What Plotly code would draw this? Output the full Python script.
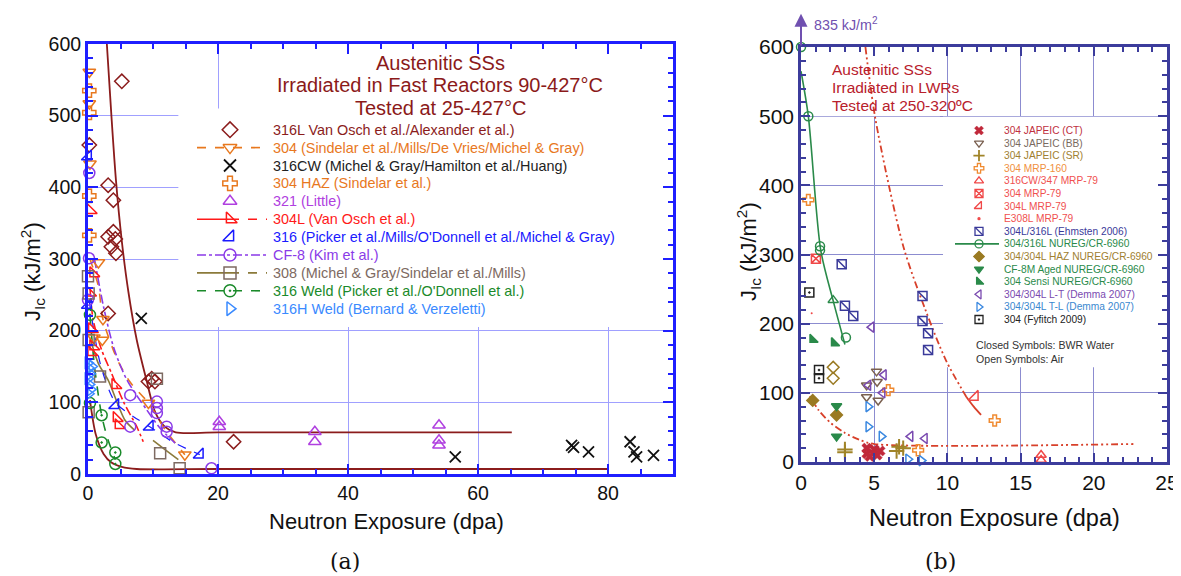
import plotly.graph_objects as go

W, H = 1181, 576
OFF = 8  # page body margin: figure's top-left sits at screen pixel (8, 8)

# ---------------- Panel (a): fast reactor data ----------------
a316L_x = [5.2, 0.2, 3.1, 3.9, 3.9, 3.1, 4.2, 3.6, 4.3, 3.1, 9.3, 9.8, 10.3, 22.4]
a316L_y = [548, 459, 403, 382, 338, 331, 328, 317, 308, 224, 129, 133, 129, 45]
a304_x = [0.2, 0.2, 0.3, 1.6, 2.3, 0.9, 2.2, 9.3, 14.9]
a304_y = [561, 517, 433, 295, 216, 190, 187, 99, 27]
a316CW_x = [8.2, 56.5, 74.4, 74.7, 77.0, 83.4, 84.0, 84.4, 87.0]
a316CW_y = [217, 24, 40, 37, 31, 45, 31, 24, 26]
a304HAZ_x = [0.2, 0.2, 0.2, 0.2]
a304HAZ_y = [535, 504, 388, 333]
a321_x = [20.2, 20.2, 34.9, 34.9, 54.0, 54.0, 54.0]
a321_y = [73, 66, 59, 45, 68, 47, 40]
a304L_x = [0.4, 0.8, 0.3, 0.6, 0.8, 0.5, 4.2, 4.4, 4.7]
a304L_y = [368, 280, 253, 202, 178, 170, 124, 78, 68]
a316_x = [0.0, 0.0, 4.2, 9.5, 17.2]
a316_y = [443, 236, 96, 66, 27]
aCF8_x = [0.2, 0.15, 0.0, 6.5, 6.5, 10.6, 10.6, 10.6, 12.1, 12.1, 19.0]
aCF8_y = [420, 301, 243, 110, 66, 101, 92, 85, 66, 59, 8]
a308_x = [0.0, 0.1, 0.1, 1.85, 0.1, 10.6, 11.1, 14.1]
a308_y = [276, 252, 187, 136, 86, 133, 29, 8]
a316W_x = [0.3, 0.3, 2.1, 2.1, 4.2, 4.2]
a316W_y = [222, 99, 82, 44, 30, 14]
a316HW_x = [0.0, 0.1, 0.3, 0.0, 0.2, 0.4, 0.1, 0.6]
a316HW_y = [155, 148, 140, 133, 125, 118, 112, 150]

# trend curves
aFitHi_x = [2.9, 3.6, 4.3, 5.2, 6.2, 7.5, 9.0, 10.3, 11.8, 13.5, 20, 65.2]
aFitHi_y = [600, 500, 410, 325, 255, 187, 131, 87, 66, 58, 58, 58]
aFitLo_x = [0.3, 1.2, 2.4, 3.6, 5.2, 7.5, 20, 80]
aFitLo_y = [103, 55, 28, 16, 10, 7, 7, 7]
a304Line_x = [0.3, 1.6, 2.3, 4.5, 6.5, 9.3, 12.0, 14.9]
a304Line_y = [300, 262, 216, 160, 128, 99, 60, 27]
a304LLine_x = [0.3, 0.8, 2.1, 3.6, 5.5, 7.5, 8.5]
a304LLine_y = [260, 215, 173, 141, 100, 66, 45]
aCF8Line_x = [1.0, 2.4, 4.0, 6.0, 9.0, 11.0, 13.4]
aCF8Line_y = [300, 233, 175, 131, 90, 65, 43]
a308Line_x = [0.3, 1.6, 3.1, 5.7, 7.2, None, 10.0, 12.0, 13.9]
a308Line_y = [190, 154, 131, 75, 61, None, 47, 33, 20]
a316Line_x = [0.2, 2.0, 4.2, 7.0, 9.5, 13.0, 17.2]
a316Line_y = [240, 150, 100, 80, 66, 45, 27]
a316WLine_x = [0.3, 1.0, 2.1, 3.0, 4.2]
a316WLine_y = [222, 150, 82, 50, 20]

# ---------------- Panel (b): LWR data ----------------
bCT_x = [4.5, 4.5, 4.7, 5.0, 5.2, 5.4]
bCT_y = [20, 12, 8, 18, 10, 16]
bBB_x = [4.48, 4.48, 5.16, 5.2, 5.27]
bBB_y = [111, 94, 131, 116, 89]
bSR_x = [3.0, 3.0, 6.53, 6.98, 6.7]
bSR_y = [14, 18, 16, 20, 22]
bMRP160_x = [0.5, 5.96, 8.0, 13.23]
bMRP160_y = [379, 104, 17, 60]
b316CW_x = [16.4, 16.4]
b316CW_y = [10, 3]
b304MRP_x = [1.02]
b304MRP_y = [294]
b304LMRP_x = [11.87]
b304LMRP_y = [94]
bE308L_x = [0.73]
bE308L_y = [215]
bEhm_x = [2.78, 3.0, 3.57, 8.3, 8.3, 8.68, 8.68]
bEhm_y = [286, 226, 211, 240, 204, 186, 162]
bNUREG_x = [0.0, 0.5, 1.3, 1.3, 3.07]
bNUREG_y = [600, 500, 312, 306, 180]
bNUREGTri_x = [2.2]
bNUREGTri_y = [234]
bHAZ_x = [0.8, 2.43]
bHAZ_y = [89, 68]
bHAZopen_x = [2.2, 2.2]
bHAZopen_y = [137, 121]
bCF8M_x = [2.43, 2.43]
bCF8M_y = [81, 37]
bSensi_x = [0.8, 2.27]
bSensi_y = [177, 172]
bLT_x = [4.82, 4.6, 5.66, 5.57, 7.48, 8.46]
bLT_y = [195, 111, 126, 100, 37, 34]
bTL_x = [4.6, 4.6, 5.5, 7.32, 8.23]
bTL_y = [80, 51, 37, 4, 2]
bFyf_x = [0.57, 1.23, 1.23]
bFyf_y = [245, 133, 121]

bNUREGLine_x = [0.0, 0.5, 1.35, 2.2, 3.0]
bNUREGLine_y = [565, 500, 306, 233, 170]
bFitHi_x = [4.4, 5.1, 7.0, 8.5, 9.9, 11.3]
bFitHi_y = [600, 494, 311, 220, 147, 94]
bFitHiEnd_x = [11.3, 11.8, 12.3]
bFitHiEnd_y = [94, 80, 68]
bFitLo_x = [0.6, 1.2, 2.0, 3.0, 4.0, 5.0, 22.7]
bFitLo_y = [95, 75, 57, 42, 32, 26, 26]

FONT = "Liberation Sans, Arial, sans-serif"


def fx(p):
    return (p - OFF) / W


def fy(p):
    return 1 - (p - OFF) / H


fig = go.Figure()


def line(x, y, color, dash="solid", width=1.6, xa="x", ya="y", shape="spline"):
    fig.add_trace(go.Scatter(x=x, y=y, mode="lines", xaxis=xa, yaxis=ya,
                             line=dict(color=color, dash=dash, width=width, shape=shape,
                                       smoothing=0.8 if shape == "spline" else None),
                             connectgaps=False, showlegend=False, hoverinfo="skip"))


def pts(x, y, symbol, color, size=11, lw=1.5, xa="x", ya="y"):
    fig.add_trace(go.Scatter(x=x, y=y, mode="markers", xaxis=xa, yaxis=ya, cliponaxis=False,
                             marker=dict(symbol=symbol, size=size, color=color,
                                         line=dict(color=color, width=lw)),
                             showlegend=False))


# colours
C316L = "#8b1c1c"; C304 = "#e8781e"; CBLK = "#111111"; C321 = "#b040e0"
C304L = "#ff1a1a"; C316 = "#1a1aff"; CCF8 = "#8a3ae8"; C308 = "#7d6a62"; C308L = "#8b7a3a"
C316W = "#1a8a2a"; C316HW = "#3a8aff"

# panel (a) curves
line(aFitHi_x, aFitHi_y, C316L, width=1.8)
line(aFitLo_x, aFitLo_y, C316L, width=1.8)
line(a304Line_x, a304Line_y, C304, dash="dash")
line(a304LLine_x, a304LLine_y, C304L, dash="dashdot")
line(aCF8Line_x, aCF8Line_y, CCF8, dash="dashdot")
line(a308Line_x, a308Line_y, C308L)
line(a316Line_x, a316Line_y, C316, dash="dash", width=1.2)
line(a316WLine_x, a316WLine_y, C316W, dash="dash")

# panel (a) markers
pts(a316L_x, a316L_y, "diamond-open", C316L)
pts(a304_x, a304_y, "triangle-down-open", C304)
pts(a316CW_x, a316CW_y, "x-thin-open", CBLK, lw=1.8)
pts(a304HAZ_x, a304HAZ_y, "cross-open", C304)
pts(a321_x, a321_y, "triangle-up-open", C321)
pts(a304L_x, a304L_y, "triangle-sw-open", C304L)
pts(a316_x, a316_y, "triangle-se-open", C316)
pts(aCF8_x, aCF8_y, "circle-open", CCF8)
pts(a308_x, a308_y, "square-open", C308)
pts(a316W_x, a316W_y, "circle-open-dot", C316W)
pts(a316HW_x, a316HW_y, "triangle-right-open", C316HW)

# panel (b)
CRED = "#d8402a"; CCT = "#c0283a"; CBB = "#7a6050"; CSR = "#a08428"; CMRP160 = "#f08a30"
CMRP = "#f04848"; CEHM = "#3a3a9a"; CGRN = "#2a8a4a"; CHAZ = "#9a7a22"; CLT = "#7a4ab0"
CTL = "#3a88e0"
DDD = "7px,3px,2px,3px,2px,3px"
line(bFitHi_x, bFitHi_y, CRED, dash=DDD, width=1.8, xa="x2", ya="y2")
line(bFitHiEnd_x, bFitHiEnd_y, CRED, width=1.8, xa="x2", ya="y2")
line(bFitLo_x, bFitLo_y, CRED, dash=DDD, width=1.8, xa="x2", ya="y2")
line(bNUREGLine_x, bNUREGLine_y, CGRN, width=1.6, xa="x2", ya="y2")

S = 9
pts(bCT_x, bCT_y, "x", CCT, size=S, lw=0.5, xa="x2", ya="y2")
pts(bBB_x, bBB_y, "triangle-down-open", CBB, size=S, xa="x2", ya="y2")
pts(bSR_x, bSR_y, "cross-thin-open", CSR, size=S + 2, lw=2, xa="x2", ya="y2")
pts(bMRP160_x, bMRP160_y, "cross-open", CMRP160, size=S, xa="x2", ya="y2")
pts(b316CW_x, b316CW_y, "triangle-up-open", CMRP, size=S, xa="x2", ya="y2")
pts(b304MRP_x, b304MRP_y, "square-x-open", CMRP, size=S, xa="x2", ya="y2")
pts(b304LMRP_x, b304LMRP_y, "triangle-se-open", CMRP, size=S + 2, xa="x2", ya="y2")
pts(bE308L_x, bE308L_y, "circle", CMRP, size=2, lw=0, xa="x2", ya="y2")
pts(bEhm_x, bEhm_y, "square-open", CEHM, size=S, xa="x2", ya="y2")
pts(bEhm_x, bEhm_y, "line-nw-open", CEHM, size=S, xa="x2", ya="y2")
pts(bNUREG_x, bNUREG_y, "circle-open", CGRN, size=S, xa="x2", ya="y2")
pts(bNUREGTri_x, bNUREGTri_y, "triangle-up-open", CGRN, size=S, xa="x2", ya="y2")
pts(bHAZ_x, bHAZ_y, "diamond", CHAZ, size=S, xa="x2", ya="y2")
pts(bHAZopen_x, bHAZopen_y, "diamond-open", CHAZ, size=S, xa="x2", ya="y2")
pts(bCF8M_x, bCF8M_y, "triangle-down", CGRN, size=S, xa="x2", ya="y2")
pts(bSensi_x, bSensi_y, "triangle-sw", CGRN, size=S, xa="x2", ya="y2")
pts(bLT_x, bLT_y, "triangle-left-open", CLT, size=S, xa="x2", ya="y2")
pts(bTL_x, bTL_y, "triangle-right-open", CTL, size=S, xa="x2", ya="y2")
pts(bFyf_x, bFyf_y, "square-open-dot", "#222222", size=S, xa="x2", ya="y2")

# ---------------- manual legends (overlay axis in screen-pixel units) ----------------
annotations = []


def ann(px, py, text, color, size, xanchor="left", family=FONT, angle=0, align="left"):
    annotations.append(dict(x=fx(px), y=fy(py), xref="paper", yref="paper", text=text,
                            showarrow=False, xanchor=xanchor, yanchor="middle", align=align,
                            textangle=angle, borderpad=0,
                            font=dict(family=family, size=size, color=color)))


legA = [
    ("316L Van Osch et al./Alexander et al.)", C316L, "diamond-open", None, None),
    ("304 (Sindelar et al./Mills/De Vries/Michel & Gray)", C304, "triangle-down-open", C304, "dash"),
    ("316CW (Michel & Gray/Hamilton et al./Huang)", CBLK, "x-thin-open", None, None),
    ("304 HAZ (Sindelar et al.)", C304, "cross-open", None, None),
    ("321 (Little)", C321, "triangle-up-open", None, None),
    ("304L (Van Osch et al.)", C304L, "triangle-sw-open", C304L, "split"),
    ("316 (Picker et al./Mills/O'Donnell et al./Michel & Gray)", C316, "triangle-se-open", None, None),
    ("CF-8 (Kim et al.)", CCF8, "circle-open", CCF8, "dashdot"),
    ("308 (Michel & Gray/Sindelar et al./Mills)", C308, "square-open", C308L, "split"),
    ("316 Weld (Picker et al./O'Donnell et al.)", C316W, "circle-open-dot", C316W, "dash"),
    ("316H Weld (Bernard & Verzeletti)", C316HW, "triangle-right-open", None, None),
]
for i, (lab, col, sym, lcol, ldash) in enumerate(legA):
    yy = 129.7 + i * 17.9
    if lcol:
        if ldash == "split":
            fig.add_trace(go.Scatter(x=[197, 230], y=[yy, yy], xaxis="x3", yaxis="y3", mode="lines",
                                     line=dict(color=lcol, width=1.6), showlegend=False, cliponaxis=False))
            fig.add_trace(go.Scatter(x=[230, 267], y=[yy, yy], xaxis="x3", yaxis="y3", mode="lines",
                                     line=dict(color=lcol, width=1.6, dash="dash"), showlegend=False,
                                     cliponaxis=False))
        else:
            fig.add_trace(go.Scatter(x=[197, 267], y=[yy, yy], xaxis="x3", yaxis="y3", mode="lines",
                                     line=dict(color=lcol, width=1.6, dash=ldash), showlegend=False,
                                     cliponaxis=False))
    lw = 1.8 if sym == "x-thin-open" else 1.5
    fig.add_trace(go.Scatter(x=[230], y=[yy], xaxis="x3", yaxis="y3", mode="markers", cliponaxis=False,
                             marker=dict(symbol=sym, size=12, color=col, line=dict(color=col, width=lw)),
                             showlegend=False))
    ann(272, yy, lab, col if col != CBLK else "#222222", 14.4)

legB = [
    ("304 JAPEIC (CT)", CCT, "x", "#c03040"),
    ("304 JAPEIC (BB)", CBB, "triangle-down-open", "#7a6a60"),
    ("304 JAPEIC (SR)", CSR, "cross-thin-open", "#a08030"),
    ("304 MRP-160", CMRP160, "cross-open", "#f09040"),
    ("316CW/347 MRP-79", CMRP, "triangle-up-open", "#f05050"),
    ("304 MRP-79", CMRP, "square-x-open", "#f05050"),
    ("304L MRP-79", CMRP, "triangle-se-open", "#f05050"),
    ("E308L MRP-79", CMRP, "dot", "#f05050"),
    ("304L/316L (Ehmsten 2006)", CEHM, "ehm", "#3a3a9a"),
    ("304/316L NUREG/CR-6960", CGRN, "circle-open", "#2a8a4a"),
    ("304/304L HAZ NUREG/CR-6960", CHAZ, "diamond", "#a08030"),
    ("CF-8M Aged NUREG/CR-6960", CGRN, "triangle-down", "#2a8a4a"),
    ("304 Sensi NUREG/CR-6960", CGRN, "triangle-sw", "#2a8a4a"),
    ("304/304L L-T (Demma 2007)", CLT, "triangle-left-open", "#7a4ab0"),
    ("304/304L T-L (Demma 2007)", CTL, "triangle-right-open", "#3a88d0"),
    ("304 (Fyfitch 2009)", "#222222", "square-open-dot", "#222222"),
]
for i, (lab, col, sym, tcol) in enumerate(legB):
    yy = 130.5 + i * 12.6
    if i == 9:
        fig.add_trace(go.Scatter(x=[955, 999], y=[yy, yy], xaxis="x3", yaxis="y3", mode="lines",
                                 line=dict(color=CGRN, width=1.6), showlegend=False, cliponaxis=False))
    syms = [sym]
    size = 8
    if sym == "ehm":
        syms = ["square-open", "line-nw-open"]
    if sym == "dot":
        syms = ["circle"]
        size = 2
    for s in syms:
        lw = 0.5 if s == "x" else (1.8 if s == "cross-thin-open" else 1.3)
        fig.add_trace(go.Scatter(x=[979], y=[yy], xaxis="x3", yaxis="y3", mode="markers", cliponaxis=False,
                                 marker=dict(symbol=s, size=size, color=col, line=dict(color=col, width=lw)),
                                 showlegend=False))
    ann(1003, yy, lab, tcol, 10.2)

ann(975, 345, "Closed Symbols: BWR Water", "#333333", 10.6)
ann(975, 359, "Open Symbols: Air", "#333333", 10.6)

# titles inside plots (one annotation per line)
for k, t in enumerate(["Austenitic SSs", "Irradiated in Fast Reactors 90-427°C", "Tested at 25-427°C"]):
    ann(440, 63 + k * 22.3, t, "#8b1a1a", 20, xanchor="center")
for k, t in enumerate(["Austenitic SSs", "Irradiated in LWRs", "Tested at 250-320ºC"]):
    ann(831, 69.5 + k * 17.8, t, "#b8202c", 15.5)

# axis titles
ann(386, 521, "Neutron Exposure (dpa)", "#111111", 22, xanchor="center")
ann(994, 518, "Neutron Exposure (dpa)", "#111111", 23.5, xanchor="center")
ann(33, 272, "J<sub>Ic</sub> (kJ/m<sup>2</sup>)", "#111111", 22, xanchor="center", angle=-90)
ann(748, 252, "J<sub>Ic</sub> (kJ/m<sup>2</sup>)", "#111111", 22, xanchor="center", angle=-90)
ann(345, 561, "(a)", "#111111", 22, xanchor="center", family="DejaVu Serif, Liberation Serif, serif")
ann(940, 561, "(b)", "#111111", 22, xanchor="center", family="DejaVu Serif, Liberation Serif, serif")

# 835 kJ/m2 arrow
annotations.append(dict(x=0, y=648, xref="x2", yref="y2", ax=0, ay=600, axref="x2", ayref="y2",
                        text="", showarrow=True, arrowhead=2, arrowsize=1.3, arrowwidth=2,
                        arrowcolor="#7050b0"))
ann(813, 24, "835 kJ/m<sup>2</sup>", "#7050b0", 14.3)

# white boxes hiding grid behind titles/legends
shapes = [
    dict(type="rect", xref="x", yref="y", x0=20.4, x1=89.5, y0=497, y1=599, layer="between",
         fillcolor="white", line=dict(width=0)),
    dict(type="rect", xref="x", yref="y", x0=13.9, x1=89.5, y0=205, y1=510, layer="between",
         fillcolor="white", line=dict(width=0)),
    dict(type="rect", xref="x2", yref="y2", x0=0.1, x1=9.5, y0=500, y1=599, layer="between",
         fillcolor="white", line=dict(width=0)),
    dict(type="rect", xref="x2", yref="y2", x0=9.7, x1=24.8, y0=137, y1=499, layer="between",
         fillcolor="white", line=dict(width=0)),
]

BLUE = "#1f1fff"
NAVY = "#3c3c9c"
common_a = dict(showline=True, linecolor=BLUE, linewidth=3, mirror="ticks", ticks="inside",
                tickcolor=BLUE, tickwidth=2, ticklen=10, showgrid=True, gridcolor="#a0a0ff",
                gridwidth=1, zeroline=False, automargin=False,
                tickfont=dict(family=FONT, size=19.5, color="#111111"))
common_b = dict(showline=True, linecolor=NAVY, linewidth=2.5, mirror="ticks", ticks="inside",
                tickcolor=NAVY, tickwidth=2, ticklen=9, showgrid=True, gridcolor="#8c8cd0",
                gridwidth=1, zeroline=False, automargin=False,
                tickfont=dict(family=FONT, size=21, color="#111111"))

fig.update_layout(
    width=W, height=H, margin=dict(l=0, r=0, t=0, b=0, pad=0, autoexpand=False),
    paper_bgcolor="white", plot_bgcolor="rgba(0,0,0,0)", showlegend=False,
    xaxis=dict(domain=[fx(88), fx(673)], range=[0, 90], dtick=20, tick0=0, anchor="y",
               minor=dict(dtick=5, ticks="inside", ticklen=5, tickwidth=1.5, tickcolor=BLUE, showgrid=False),
               **common_a),
    yaxis=dict(domain=[fy(474), fy(44)], range=[0, 600], dtick=100, anchor="x",
               minor=dict(dtick=20, ticks="inside", ticklen=5, tickwidth=1.5, tickcolor=BLUE, showgrid=False),
               **common_a),
    xaxis2=dict(domain=[fx(801), fx(1167)], range=[0, 25], dtick=5, tick0=0, anchor="y2",
                minor=dict(dtick=1, ticks="inside", ticklen=5, tickwidth=1.5, tickcolor=NAVY, showgrid=False),
                **common_b),
    yaxis2=dict(domain=[fy(462), fy(47)], range=[0, 600], dtick=100, anchor="x2",
                minor=dict(dtick=20, ticks="inside", ticklen=5, tickwidth=1.5, tickcolor=NAVY, showgrid=False),
                **common_b),
    xaxis3=dict(domain=[0, 1], range=[OFF, OFF + W], visible=False, anchor="y3", fixedrange=True,
                automargin=False),
    yaxis3=dict(domain=[0, 1], range=[OFF + H, OFF], visible=False, anchor="x3", fixedrange=True,
                automargin=False),
    annotations=annotations,
    shapes=shapes,
)

fig.write_html("out.html")
